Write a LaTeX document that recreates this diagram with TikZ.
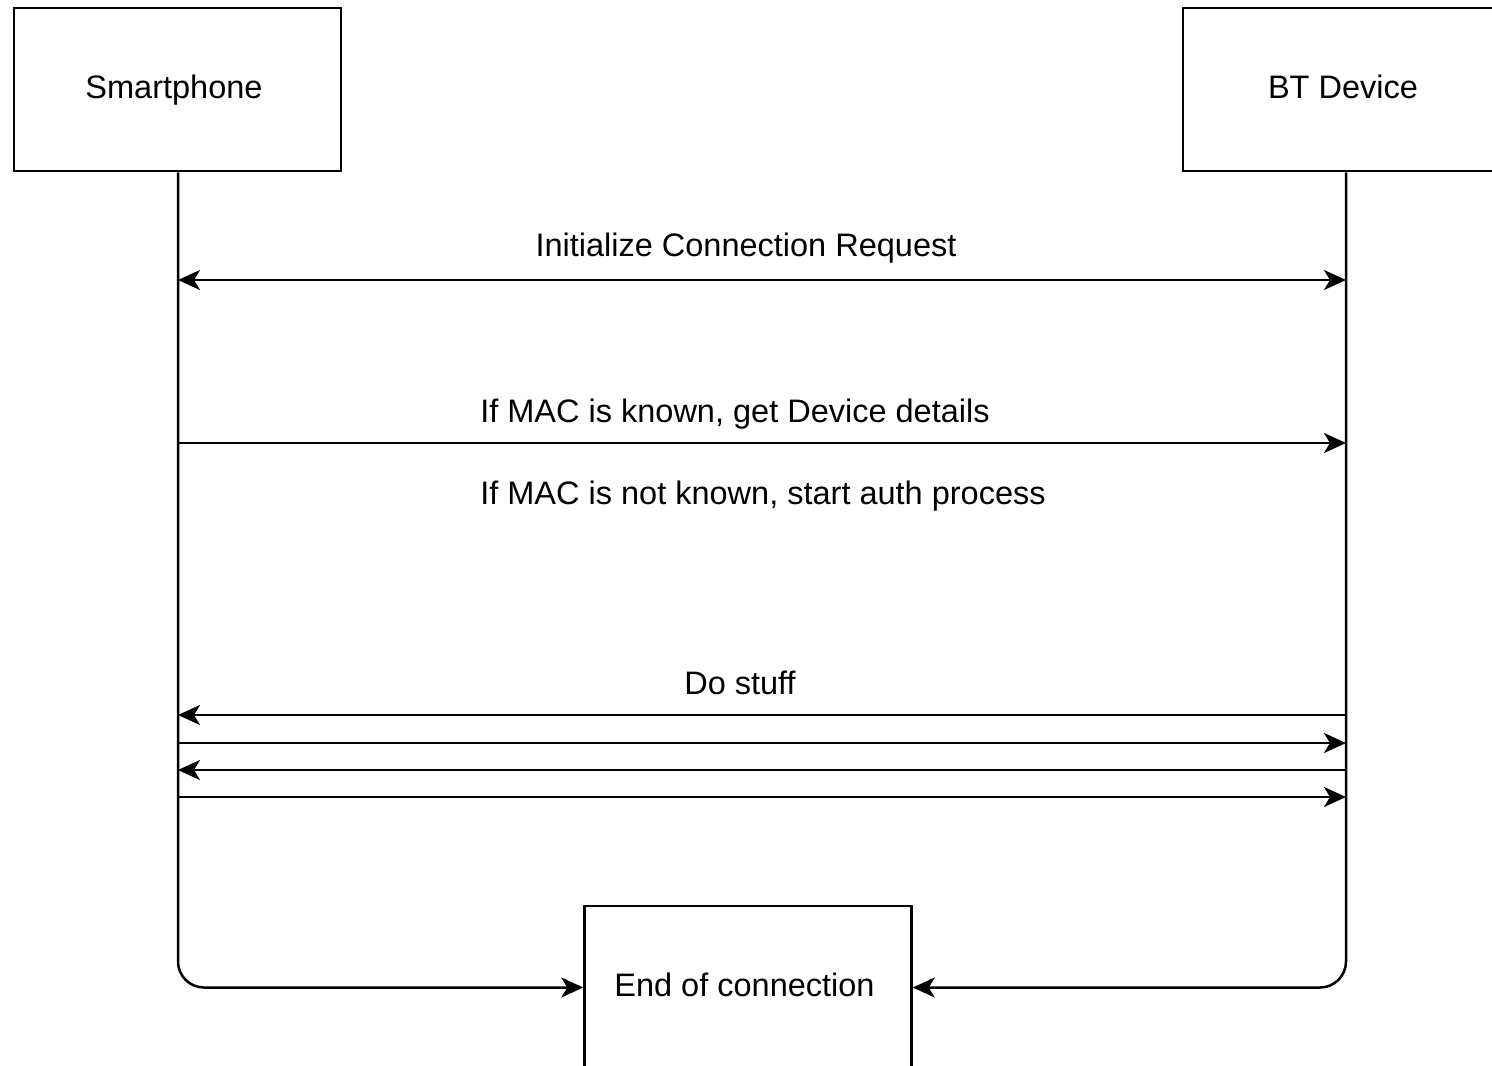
\documentclass[tikz,border=0pt]{standalone}
\usepackage{fontspec}
\setmainfont{Liberation Sans}
\usetikzlibrary{arrows.meta}
\begin{document}
\begin{tikzpicture}[x=1pt,y=-1pt,
  box/.style={draw=black, line width=2.5pt, minimum width=327pt, minimum height=163pt, font=\fontsize{32.5}{38}\selectfont, text height=23pt, text depth=5pt, inner sep=0pt, execute at end node={\hspace*{7pt}}},
  lbl/.style={font=\fontsize{32.5}{38}\selectfont, anchor=base, inner sep=0pt},
  conn/.style={line width=2.5pt, draw=black},
  tip/.style={-{Stealth[length=22pt,width=20pt,inset=6pt]}},
  tips/.style={{Stealth[length=22pt,width=20pt,inset=6pt]}-{Stealth[length=22pt,width=20pt,inset=6pt]}}]
\clip (0,0) rectangle (1492,1066);
\fill[white] (0,0) rectangle (1492,1066);

\node[box] (sp) at (177.5,89.5) {Smartphone};
\node[box] (bt) at (1346.5,89.5) {BT Device};
\node[box] (end) at (748,987.5) {End of connection};

% lifeline coordinates
\coordinate (s1) at (178,280);  \coordinate (b1) at (1346,280);
\coordinate (s2) at (178,443);  \coordinate (b2) at (1346,443);
\coordinate (s3) at (178,715);  \coordinate (b3) at (1346,715);
\coordinate (s4) at (178,743);  \coordinate (b4) at (1346,743);
\coordinate (s5) at (178,770);  \coordinate (b5) at (1346,770);
\coordinate (s6) at (178,797);  \coordinate (b6) at (1346,797);

% lifelines to end box
\draw[conn,tip,rounded corners=26pt] (sp.south -| s1) -- (s1 |- end.west) -- (end.west);
\draw[conn,tip,rounded corners=26pt] (bt.south -| b1) -- (b1 |- end.east) -- (end.east);

% messages
\draw[conn,tips] (s1) -- (b1);
\draw[conn,tip] (s2) -- (b2);
\draw[conn,tip] (b3) -- (s3);
\draw[conn,tip] (s4) -- (b4);
\draw[conn,tip] (b5) -- (s5);
\draw[conn,tip] (s6) -- (b6);

% labels
\node[lbl] (l1) at (746,256) {Initialize Connection Request};
\node[lbl] (l2) at (735,422) {If MAC is known, get Device details};
\node[lbl] (l3) at (763,504) {If MAC is not known, start auth process};
\node[lbl] (l4) at (740,694) {Do stuff};
\end{tikzpicture}
\end{document}
